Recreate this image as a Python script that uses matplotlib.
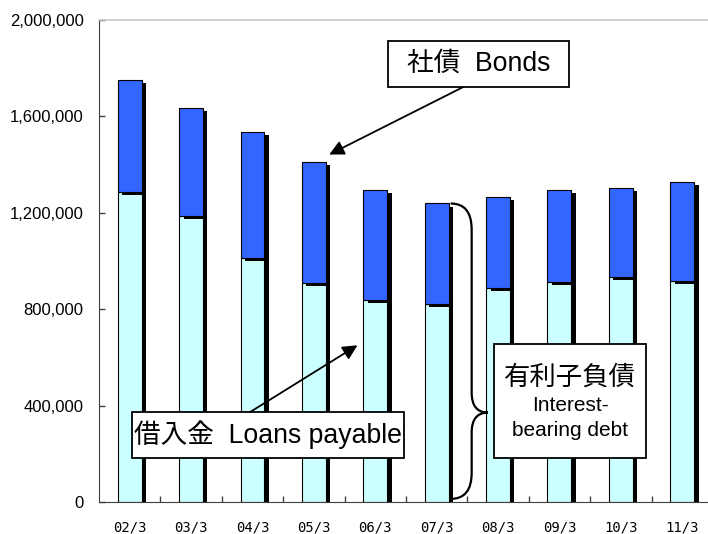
import matplotlib
matplotlib.use('Agg')
import matplotlib.pyplot as plt
import matplotlib.patheffects as pe
from matplotlib import font_manager
from matplotlib.patches import Rectangle, PathPatch
from matplotlib.path import Path
from matplotlib.ticker import FuncFormatter, FixedLocator

# данные (млн иен)
periods = ['02/3', '03/3', '04/3', '05/3', '06/3', '07/3', '08/3', '09/3', '10/3', '11/3']
total_debt = [1752000, 1636000, 1535000, 1410000, 1294000, 1239000, 1267000, 1294000, 1304000, 1327000]
loans = [1287000, 1186000, 1013000, 911000, 839000, 824000, 889000, 912000, 934000, 918000]
bonds = [t - l for t, l in zip(total_debt, loans)]

jp_font = ['Liberation Sans', 'Noto Sans CJK JP']

# узкий шрифт для оси Y, если он есть
installed = {f.name for f in font_manager.fontManager.ttflist}
if 'Liberation Sans Narrow' in installed:
    ytick_font, ytick_size = 'Liberation Sans Narrow', 13.5
else:
    ytick_font, ytick_size = 'Liberation Sans', 12

fig = plt.figure(figsize=(7.08, 5.34), dpi=100)
ax = fig.add_axes([0.1398, 0.0594, 0.8672, 0.9032])

x = list(range(len(periods)))
shadow = [pe.withSimplePatchShadow(offset=(3.2, -2.2), shadow_rgbFace='black', alpha=1.0)]
ax.bar(x, loans, width=0.39, color='#CCFFFF', edgecolor='black', linewidth=0.8,
       path_effects=shadow, zorder=2)
ax.bar(x, bonds, bottom=loans, width=0.39, color='#3366FF', edgecolor='black', linewidth=0.8,
       path_effects=shadow, zorder=2)

ax.set_xlim(-0.5, len(periods) - 0.5)
ax.set_ylim(0, 2000000)
ax.set_yticks([0, 400000, 800000, 1200000, 1600000, 2000000])
ax.yaxis.set_major_formatter(FuncFormatter(lambda v, p: f'{int(v):,}'))
ax.tick_params(axis='y', direction='in', length=4, width=1, color='#404040', pad=11,
               labelsize=ytick_size)
for lbl in ax.get_yticklabels():
    lbl.set_family(ytick_font)

ax.set_xticks(x)
ax.set_xticklabels(periods, family='DejaVu Sans Mono', fontsize=10)
ax.tick_params(axis='x', which='major', length=0, pad=13)
ax.xaxis.set_minor_locator(FixedLocator([i + 0.5 for i in range(len(periods) - 1)]))
ax.tick_params(axis='x', which='minor', direction='in', length=4, width=1, color='#404040')

ax.spines['left'].set_color('#404040')
ax.spines['bottom'].set_color('#404040')
ax.spines['top'].set_color('#C8C8C8')
ax.spines['top'].set_linewidth(1.2)
ax.spines['right'].set_visible(False)

# подпись «Облигации»
ax.add_patch(Rectangle((4.215, 1722000), 2.945, 191000, facecolor='white',
                       edgecolor='black', linewidth=1.3, zorder=5, clip_on=False))
ax.text(5.686, 1817000, '社債  Bonds', ha='center', va='center', fontsize=19.2,
        family=jp_font, zorder=6)
ax.annotate('', xy=(3.25, 1442000), xytext=(5.433, 1722000),
            arrowprops=dict(arrowstyle='-|>', color='black', lw=1.3,
                            mutation_scale=22, shrinkA=0, shrinkB=0), zorder=4)

# подпись «Кредиты»
ax.add_patch(Rectangle((0.033, 185000), 4.439, 189000, facecolor='white',
                       edgecolor='black', linewidth=1.3, zorder=5, clip_on=False))
ax.text(2.252, 279000, '借入金  Loans payable', ha='center', va='center', fontsize=19.2,
        family=jp_font, zorder=6)
ax.annotate('', xy=(3.71, 651000), xytext=(1.96, 374000),
            arrowprops=dict(arrowstyle='-|>', color='black', lw=1.3,
                            mutation_scale=22, shrinkA=0, shrinkB=0), zorder=7)

# подпись «Процентный долг» и фигурная скобка
ax.add_patch(Rectangle((5.938, 183000), 2.471, 473000, facecolor='white',
                       edgecolor='black', linewidth=1.3, zorder=5))
ax.text(7.174, 519000, '有利子負債', ha='center', va='center', fontsize=19,
        family='Noto Sans CJK JP', zorder=6)
ax.text(7.174, 401000, 'Interest-', ha='center', va='center', fontsize=15,
        family='Liberation Sans', zorder=6)
ax.text(7.174, 297000, 'bearing debt', ha='center', va='center', fontsize=15,
        family='Liberation Sans', zorder=6)

x0, xv, xt = 5.228, 5.570, 5.835
ytop, ymid, ybot = 1239000, 372000, 14000
r, r2 = 108000, 83000
verts = [(x0, ytop), (xv, ytop), (xv, ytop - r),
         (xv, ymid + r2),
         (xv, ymid), (xt, ymid),
         (xv, ymid), (xv, ymid - r2),
         (xv, ybot + r),
         (xv, ybot), (x0, ybot)]
codes = [Path.MOVETO, Path.CURVE3, Path.CURVE3,
         Path.LINETO,
         Path.CURVE3, Path.CURVE3,
         Path.CURVE3, Path.CURVE3,
         Path.LINETO,
         Path.CURVE3, Path.CURVE3]
ax.add_patch(PathPatch(Path(verts, codes), facecolor='none', edgecolor='black',
                       linewidth=1.6, zorder=4))

plt.savefig('out.png', dpi=100)
